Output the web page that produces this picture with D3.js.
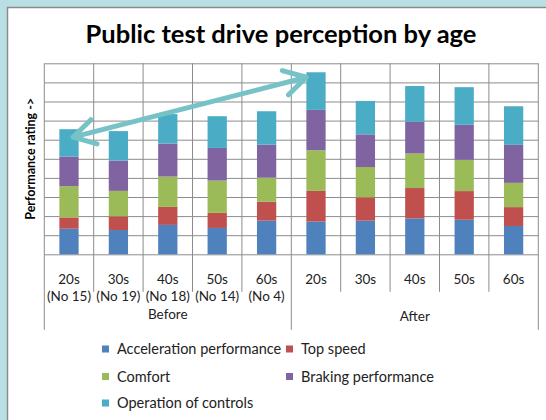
<!DOCTYPE html>
<html>
<head>
<meta charset="utf-8">
<script src="https://cdn.jsdelivr.net/npm/d3@7"></script>
<style>
  html, body { margin: 0; padding: 0; background: #b8dfe3; }
  svg { display: block; font-family: Lato, "Open Sans", sans-serif; }
</style>
</head>
<body>
<div id="chart"></div>
<script>
// values (one grid line = 1 unit)
const categories = ["20s", "30s", "40s", "50s", "60s", "20s", "30s", "40s", "50s", "60s"];
const subLabels = ["(No 15)", "(No 19)", "(No 18)", "(No 14)", "(No 4)", "", "", "", "", ""];
const groups = ["Before", "After"];
const seriesNames = ["Acceleration performance", "Top speed", "Comfort", "Braking performance", "Operation of controls"];
const accel    = [1.34, 1.27, 1.54, 1.38, 1.76, 1.71, 1.76, 1.88, 1.81, 1.48];
const topSpeed = [0.59, 0.72, 0.94, 0.79, 0.99, 1.61, 1.22, 1.59, 1.50, 0.99];
const comfort  = [1.64, 1.33, 1.59, 1.69, 1.26, 2.13, 1.59, 1.81, 1.64, 1.27];
const braking  = [1.55, 1.59, 1.73, 1.71, 1.73, 2.11, 1.71, 1.66, 1.83, 1.99];
const controls = [1.43, 1.54, 1.54, 1.66, 1.75, 1.97, 1.75, 1.87, 1.97, 2.02];
const yTicks = d3.range(0, 11);

const colors = d3.scaleOrdinal()
  .domain(seriesNames)
  .range(["#4f81bd", "#c0504d", "#9bbb59", "#8064a2", "#4bacc6"]);

const width = 546, height = 420;
const margins = {top: 63.3, right: 7.7, bottom: 165.7, left: 44.3};

const svg = d3.select("#chart").append("svg")
  .attr("width", width)
  .attr("height", height);

// white panel with gray frame
svg.append("rect")
  .attr("x", 7.5).attr("y", 7.5)
  .attr("width", width).attr("height", height)
  .attr("fill", "#fff")
  .attr("stroke", "#8a8a8a")
  .attr("stroke-width", 1.5);

// table for the stack
const rows = categories.map((c, i) => ({
  idx: i,
  [seriesNames[0]]: accel[i],
  [seriesNames[1]]: topSpeed[i],
  [seriesNames[2]]: comfort[i],
  [seriesNames[3]]: braking[i],
  [seriesNames[4]]: controls[i]
}));

const xScale = d3.scaleBand()
  .domain(d3.range(categories.length))
  .range([margins.left, width - margins.right])
  .padding(0);

const yScale = d3.scaleLinear()
  .domain([0, 10])
  .range([height - margins.bottom, margins.top]);

const y0 = yScale(0);

// horizontal grid
svg.append("g")
  .attr("transform", `translate(${margins.left},0)`)
  .call(d3.axisLeft(yScale).tickValues(yTicks).tickSize(-(width - margins.left - margins.right)).tickFormat(""))
  .call(g => g.select(".domain").remove())
  .call(g => g.selectAll("line").attr("stroke", "#8c8c8c"));

// vertical category lines
const bounds = d3.range(categories.length + 1).map(i =>
  i < categories.length ? xScale(i) : xScale(i - 1) + xScale.bandwidth());

svg.append("g")
  .selectAll("line")
  .data(bounds)
  .join("line")
  .attr("x1", d => d).attr("x2", d => d)
  .attr("y1", yScale(10))
  .attr("y2", (d, i) => (i % 5 === 0) ? y0 + 75.5 : y0 + 37.5)
  .attr("stroke", "#8c8c8c")
  .attr("stroke-width", 1);

// stacked bars
const barW = xScale.bandwidth() * 0.39;
svg.append("g")
  .selectAll("g")
  .data(d3.stack().keys(seriesNames)(rows))
  .join("g")
  .attr("fill", d => colors(d.key))
  .selectAll("rect")
  .data(d => d)
  .join("rect")
  .attr("x", d => xScale(d.data.idx) + (xScale.bandwidth() - barW) / 2)
  .attr("y", d => yScale(d[1]))
  .attr("height", d => yScale(d[0]) - yScale(d[1]))
  .attr("width", barW);

// category labels
const labels = svg.append("g")
  .attr("font-size", 13.5)
  .attr("fill", "#222")
  .attr("text-anchor", "middle");

labels.selectAll(".cat")
  .data(categories)
  .join("text")
  .attr("class", "cat")
  .attr("x", (d, i) => xScale(i) + xScale.bandwidth() / 2)
  .attr("y", y0 + 30)
  .text(d => d);

labels.selectAll(".sub")
  .data(subLabels)
  .join("text")
  .attr("class", "sub")
  .attr("x", (d, i) => xScale(i) + xScale.bandwidth() / 2)
  .attr("y", y0 + 47)
  .text(d => d);

labels.selectAll(".grp")
  .data(groups)
  .join("text")
  .attr("class", "grp")
  .attr("x", (d, i) => xScale(i * 5) + xScale.bandwidth() * 2.5)
  .attr("y", (d, i) => y0 + (i === 0 ? 65 : 67))
  .text(d => d);

// title
svg.append("text")
  .attr("x", 281)
  .attr("y", 43)
  .attr("text-anchor", "middle")
  .attr("font-size", 25.5)
  .attr("font-weight", "bold")
  .attr("fill", "#000")
  .text("Public test drive perception by age");

// y axis title
svg.append("text")
  .attr("transform", `translate(35,${(yScale(0) + yScale(10)) / 2}) rotate(-90)`)
  .attr("text-anchor", "middle")
  .attr("font-size", 12.5)
  .attr("font-weight", "bold")
  .attr("fill", "#000")
  .text("Performance rating ->");

// double headed arrow from first Before bar to first After bar
const totals = rows.map(r => d3.sum(seriesNames, k => r[k]));
const p1 = [xScale(0) + xScale.bandwidth() / 2 + 4, yScale(totals[0]) + 8];
const p2 = [xScale(5) + (xScale.bandwidth() - barW) / 2, yScale(totals[5]) + 5];
const ang = Math.atan2(p2[1] - p1[1], p2[0] - p1[0]);
const head = (p, a) => {
  const L = 25, s = Math.PI / 6;
  return `M${p[0] + L * Math.cos(a + s)},${p[1] + L * Math.sin(a + s)}L${p[0]},${p[1]}L${p[0] + L * Math.cos(a - s)},${p[1] + L * Math.sin(a - s)}`;
};
svg.append("path")
  .attr("d", `M${p1[0]},${p1[1]}L${p2[0]},${p2[1]}` + head(p2, ang + Math.PI) + head(p1, ang))
  .attr("fill", "none")
  .attr("stroke", "#77c2c7")
  .attr("stroke-width", 5)
  .attr("stroke-linecap", "round")
  .attr("stroke-linejoin", "round");

// legend
const legendPos = [[102, 349], [286, 349], [102, 376.5], [286, 376.5], [102, 403]];
const legend = svg.append("g")
  .attr("font-size", 14.5)
  .attr("fill", "#222");

const items = legend.selectAll("g")
  .data(seriesNames)
  .join("g")
  .attr("transform", (d, i) => `translate(${legendPos[i][0]},${legendPos[i][1]})`);

items.append("rect")
  .attr("x", 0).attr("y", -3.5)
  .attr("width", 7).attr("height", 7)
  .attr("fill", d => colors(d));

items.append("text")
  .attr("x", 15)
  .attr("y", 5)
  .text(d => d);
</script>
</body>
</html>
